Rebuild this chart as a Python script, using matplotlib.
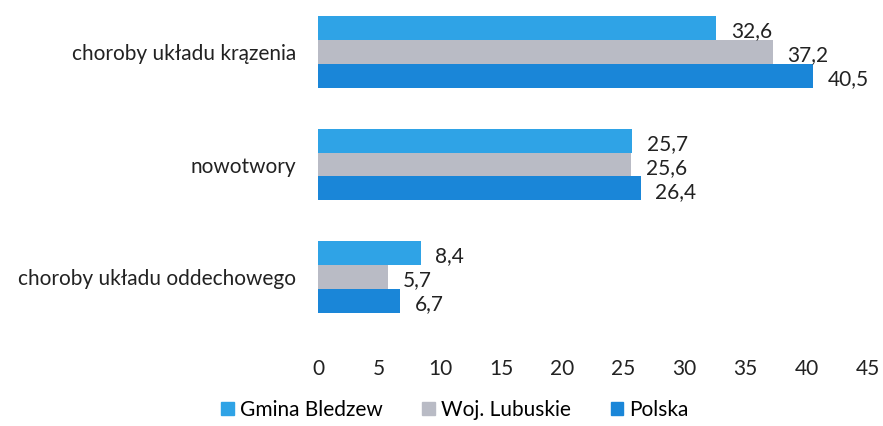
import numpy as np
import matplotlib.pyplot as plt
from matplotlib.patches import Patch

plt.rcParams['font.family'] = ['Lato', 'DejaVu Sans']

categories = ["choroby układu krązenia", "nowotwory", "choroby układu oddechowego"]
series_names = ["Gmina Bledzew", "Woj. Lubuskie", "Polska"]
gmina = [32.6, 25.7, 8.4]
woj = [37.2, 25.6, 5.7]
polska = [40.5, 26.4, 6.7]
colors = ["#2fa3e6", "#b9bbc5", "#1a86d8"]

values = [gmina, woj, polska]

fig = plt.figure(figsize=(8.83, 4.26), dpi=100)
ax = fig.add_axes([318 / 883, 1 - 345 / 426, 550 / 883, 345 / 426])

y = np.arange(len(categories))
h = 0.213
for k, (vals, col) in enumerate(zip(values, colors)):
    pos = y + (k - 1) * h
    ax.barh(pos, vals, height=h, color=col)
    for p, v in zip(pos, vals):
        ax.text(v + 1.2, p + 0.03, f"{v:.1f}".replace(".", ","),
                va="center", ha="left", fontsize=15, color="#222222")

ax.set_xlim(0, 45)
ax.set_ylim(2.604, -0.462)
ax.set_xticks(np.arange(0, 46, 5))
ax.set_yticks(y)
ax.set_yticklabels(categories)
ax.tick_params(axis="both", length=0, labelsize=15, colors="#222222")
ax.tick_params(axis="y", pad=16)
ax.tick_params(axis="x", pad=10)
for s in ax.spines.values():
    s.set_visible(False)

handles = [Patch(color=c, label=n) for c, n in zip(colors, series_names)]
fig.legend(handles=handles, loc="center", bbox_to_anchor=(455 / 883, 1 - 410 / 426),
           ncol=3, frameon=False, fontsize=15, handlelength=0.6, handleheight=0.6,
           handletextpad=0.3, columnspacing=1.9)

fig.savefig("out.png", dpi=100)
